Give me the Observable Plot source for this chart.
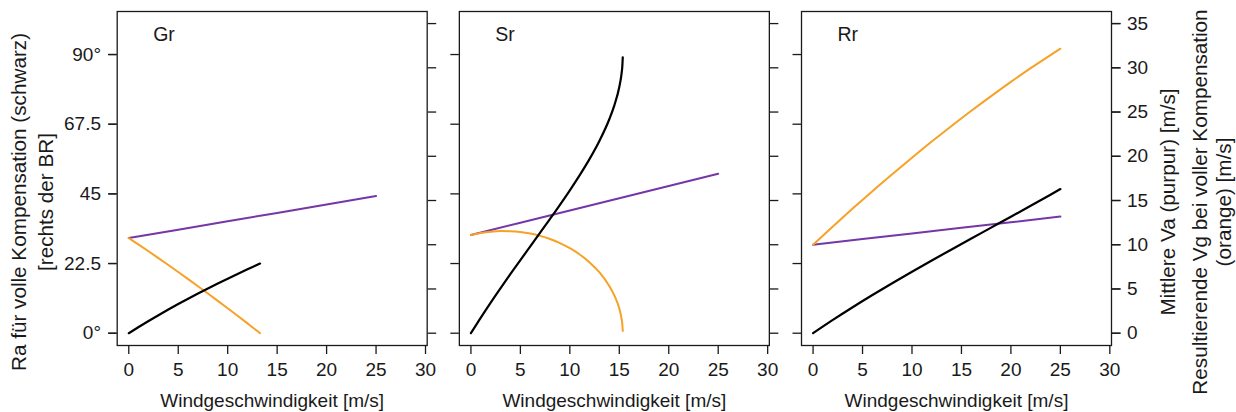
<!DOCTYPE html>
<html>
<head>
<meta charset="utf-8">
<script src="https://cdn.jsdelivr.net/npm/d3@7"></script>
<script src="https://cdn.jsdelivr.net/npm/@observablehq/plot@0.6"></script>
<style>
  html, body { margin: 0; padding: 0; background: white; }
  #chart svg { display: block; }
</style>
</head>
<body>
<div id="chart"></div>
<script>
// ---------- data ----------
const panels = ["Gr", "Sr", "Rr"];

// Gr
const grWind = [0, 1, 2, 3, 4, 5, 6, 7, 8, 9, 10, 11, 12, 13, 13.27];
const grRa   = [0, 2.0, 3.94, 5.82, 7.64, 9.41, 11.13, 12.81, 14.45, 16.05, 17.61, 19.14, 20.64, 22.1, 22.5];
const grVg   = [10.75, 10.01, 9.26, 8.49, 7.71, 6.92, 6.12, 5.31, 4.49, 3.66, 2.82, 1.97, 1.11, 0.24, 0];
// Sr
const srWind = [0, 1, 2, 3, 4, 5, 6, 7, 8, 9, 10, 11, 12, 13, 14, 14.5, 15, 15.2, 15.25, 15.3, 15.35];
const srRa   = [0, 5.04, 9.88, 14.56, 19.13, 23.61, 28.04, 32.47, 36.93, 41.46, 46.14, 51.05, 56.3, 62.17, 69.18, 73.59, 79.51, 83.13, 84.37, 85.96, 89.08];
const srVg   = [11.1, 11.33, 11.48, 11.55, 11.53, 11.44, 11.26, 11.0, 10.65, 10.19, 9.61, 8.9, 8.0, 6.87, 5.32, 4.27, 2.78, 1.83, 1.5, 1.08, 0.26];
// Rr
const rrWind = [0, 2, 4, 6, 8, 10, 12, 14, 16, 18, 20, 22, 24, 25];
const rrRa   = [0, 4.28, 8.38, 12.32, 16.14, 19.85, 23.49, 27.06, 30.59, 34.1, 37.61, 41.15, 44.74, 46.56];
const rrVg   = [10, 12.07, 14.09, 16.06, 17.97, 19.84, 21.66, 23.42, 25.14, 26.8, 28.41, 29.96, 31.44, 32.16];
// Va (purple), all panels
const vaWind = [0, 5, 10, 15, 20, 25];
const grVa   = [10.75, 11.7, 12.65, 13.6, 14.55, 15.5];
const srVa   = [11.1, 12.49, 13.87, 15.26, 16.64, 18.03];
const rrVa   = [10, 10.64, 11.27, 11.91, 12.54, 13.18];

// axes
const xTicks = [0, 5, 10, 15, 20, 25, 30];
const angleTicks = [0, 22.5, 45, 67.5, 90];
const angleLabels = ["0°", "22.5", "45", "67.5", "90°"];
const speedTicks = [0, 5, 10, 15, 20, 25, 30, 35];

const xLabel = "Windgeschwindigkeit [m/s]";
const leftTitle = ["Ra für volle Kompensation (schwarz)", "[rechts der BR]"];
const rightTitle = ["Mittlere Va (purpur) [m/s]", "Resultierende Vg bei voller Kompensation", "(orange) [m/s]"];

// ---------- build tables ----------
const K = 100 / 35; // right axis: 35 m/s shares the position of 100°
function rows(panel, w, vals) { return w.map((x, i) => ({panel, w: x, v: vals[i]})); }
const raData = [...rows("Gr", grWind, grRa), ...rows("Sr", srWind, srRa), ...rows("Rr", rrWind, rrRa)];
const vgData = [...rows("Gr", grWind, grVg), ...rows("Sr", srWind, srVg), ...rows("Rr", rrWind, rrVg)];
const vaData = [...rows("Gr", vaWind, grVa), ...rows("Sr", vaWind, srVa), ...rows("Rr", vaWind, rrVa)];
const angleLabelOf = new Map(angleTicks.map((t, i) => [t, angleLabels[i]]));

const purple = "#7636a6";
const orange = "#f7a126";
const ink = "#1a1a1a";

const plot = Plot.plot({
  width: 1236, height: 412,
  marginLeft: 116.7, marginRight: 125, marginTop: 11, marginBottom: 67,
  style: {fontFamily: "'Liberation Sans', Arial, Helvetica, sans-serif", fontSize: "19px", color: ink, background: "white"},
  fx: {domain: panels, paddingInner: 0.094, paddingOuter: 0, round: false, axis: null, label: null},
  x: {domain: [-1.17, 30.17]},
  y: {domain: [-3.97, 103.9]},
  marks: [
    Plot.frame({stroke: ink, strokeWidth: 1.3}),
    Plot.lineY(vaData, {x: "w", y: d => d.v * K, fx: "panel", stroke: purple, strokeWidth: 2}),
    Plot.lineY(vgData, {x: "w", y: d => d.v * K, fx: "panel", stroke: orange, strokeWidth: 2, curve: "monotone-x"}),
    Plot.lineY(raData, {x: "w", y: "v", fx: "panel", stroke: "black", strokeWidth: 2.2, curve: "monotone-x"}),
    Plot.axisX({ticks: xTicks, tickSize: 9, tickPadding: 7.7, label: null, strokeWidth: 1.3}),
    Plot.axisY({anchor: "left", ticks: angleTicks, tickFormat: d => angleLabelOf.get(d), tickSize: 8.5, tickPadding: 7.7, label: null, strokeWidth: 1.3}),
    Plot.axisY({anchor: "left", ticks: angleTicks, tickFormat: () => "", tickSize: 8.5, facetAnchor: null, label: null, strokeWidth: 1.3}),
    Plot.axisY({anchor: "right", ticks: speedTicks.map(s => s * K), tickFormat: d => String(Math.round(d / K)), tickSize: 8.5, tickPadding: 7, label: null, strokeWidth: 1.3}),
    Plot.axisY({anchor: "right", ticks: speedTicks.map(s => s * K), tickFormat: () => "", tickSize: 8.5, facetAnchor: null, label: null, strokeWidth: 1.3}),
    Plot.text(panels, {fx: d => d, text: d => d, frameAnchor: "top-left", dx: 36, dy: 15.7, lineAnchor: "top", textAnchor: "start", fontSize: 19.5}),
    Plot.text([xLabel], {text: d => d, frameAnchor: "bottom", dy: 47.5, lineAnchor: "top", textAnchor: "middle", fontSize: 19})
  ]
});

const svg = d3.select(plot);
const cy = 202;
function vtitle(x, text) {
  svg.append("text")
    .attr("transform", `translate(${x},${cy}) rotate(-90)`)
    .attr("text-anchor", "middle")
    .attr("fill", ink)
    .style("font-size", "20.7px")
    .text(text);
}
vtitle(25.5, leftTitle[0]);
vtitle(52.5, leftTitle[1]);
vtitle(1174.5, rightTitle[0]);
vtitle(1207, rightTitle[1]);
vtitle(1231, rightTitle[2]);

document.getElementById("chart").appendChild(plot);
</script>
</body>
</html>
